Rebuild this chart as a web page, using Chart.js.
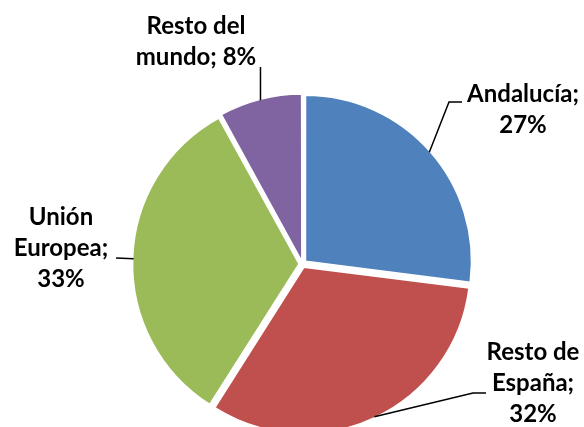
<!DOCTYPE html>
<html>
<head>
<meta charset="utf-8">
<script src="https://cdn.jsdelivr.net/npm/chart.js@4"></script>
<style>
html,body{margin:0;padding:0;background:#fff;}
canvas{display:block;}
</style>
</head>
<body>
<canvas id="grafico" width="584" height="427"></canvas>
<script>
// datos del gráfico
const categorias = ["Andalucía", "Resto de España", "Unión Europea", "Resto del mundo"];
const porcentajes = [27, 32, 33, 8];
const colores = ["#4F81BD", "#C0504D", "#9BBB59", "#8064A2"];

// textos de las etiquetas (como en el original, partidas en líneas)
const etiquetas = [
["Andalucía;", "27%"],
["Resto de", "España;", "32%"],
["Unión", "Europea;", "33%"],
["Resto del", "mundo; 8%"]
];

// separación de cada porción (Chart.js divide el offset entre 4)
const separacion = [16, 14, 14, 10.5];

// colocación manual de etiquetas y líneas guía
const posEtiquetas = [
{ cx:523, y0:102, guia:[{x:449,y:102},{x:462,y:102}] },
{ cx:533, y0:360, guia:[{x:473,y:393},{x:486,y:393}] },
{ cx:61,  y0:225, guia:[{x:116,y:258}] },
{ cx:196, y0:34,  guia:[{x:null,y:67}] }
];

const pluginEtiquetas = {
id:"etiquetas",
afterDatasetsDraw(chart){
const ctx = chart.ctx;
const arcos = chart.getDatasetMeta(0).data;
ctx.save();
arcos.forEach((arc, i)=>{
const p = arc.getProps(["x","y","startAngle","endAngle","outerRadius","circumference"], true);
const medio = (p.startAngle + p.endAngle) / 2;
const base = separacion[i] / 4;
const off = base * (2 - Math.sin(Math.min(Math.PI, p.circumference)));
const cx = p.x + Math.cos(medio) * off;
const cy = p.y + Math.sin(medio) * off;
const borde = {
x: cx + Math.cos(medio) * (p.outerRadius - 1),
y: cy + Math.sin(medio) * (p.outerRadius - 1)
};
const pos = posEtiquetas[i];

ctx.strokeStyle = "#000";
ctx.lineWidth = 1.5;
ctx.beginPath();
ctx.moveTo(borde.x, borde.y);
pos.guia.forEach(g=>{
ctx.lineTo(g.x === null ? borde.x : g.x, g.y);
});
ctx.stroke();

ctx.fillStyle = "#000";
ctx.font = "bold 24px Lato";
ctx.textAlign = "center";
ctx.textBaseline = "alphabetic";
etiquetas[i].forEach((linea, k)=>{
ctx.fillText(linea, pos.cx, pos.y0 + k * 31);
});
});
ctx.restore();
}
};

new Chart(document.getElementById("grafico"), {
type:"pie",
data:{
labels:categorias,
datasets:[{
data:porcentajes,
backgroundColor:colores,
borderColor:"#fff",
borderWidth:1.5,
offset:separacion,
hoverOffset:0,
clip:false
}]
},
options:{
responsive:false,
animation:false,
radius:166,
layout:{ padding:{ left:21, right:0, top:101, bottom:0 } },
plugins:{
legend:{ display:false },
tooltip:{ enabled:false }
},
events:[]
},
plugins:[pluginEtiquetas]
});
</script>
</body>
</html>
